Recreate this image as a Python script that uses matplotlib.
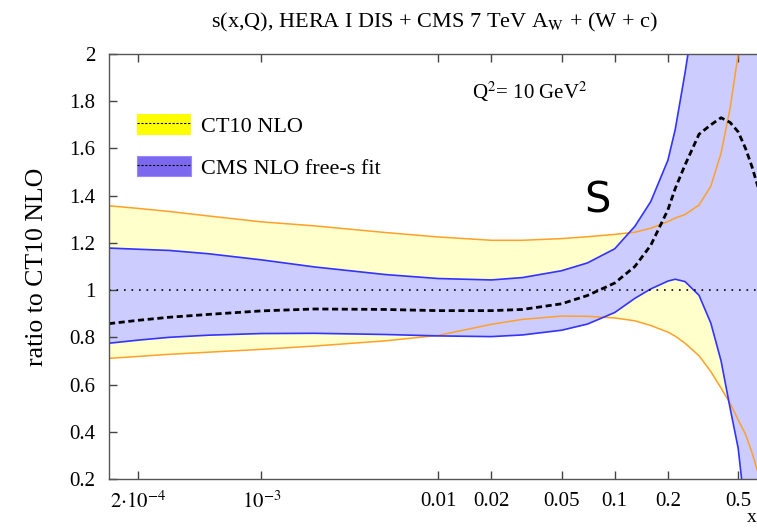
import matplotlib
matplotlib.use('Agg')
import matplotlib.pyplot as plt
from matplotlib.patches import Patch
from matplotlib.lines import Line2D
from matplotlib.legend_handler import HandlerTuple

plt.rcParams['font.family'] = 'Liberation Serif'
plt.rcParams['mathtext.fontset'] = 'stix'

# strange-sea ratio to CT10 NLO, Q^2 = 10 GeV^2
x = [1.37e-4, 2e-4, 3e-4, 5e-4, 1e-3, 2e-3, 5e-3, 0.01, 0.02, 0.03, 0.05,
     0.07, 0.1, 0.13, 0.16, 0.2, 0.22, 0.25, 0.3, 0.35, 0.4, 0.45, 0.5,
     0.55, 0.6, 0.7]
ct10_up = [1.357, 1.346, 1.333, 1.314, 1.289, 1.272, 1.244, 1.225, 1.211,
           1.211, 1.218, 1.226, 1.236, 1.245, 1.262, 1.29, 1.305, 1.32,
           1.36, 1.44, 1.58, 1.77, 2.0, 2.3, 2.7, 3.5]
ct10_lo = [0.711, 0.719, 0.728, 0.737, 0.749, 0.763, 0.785, 0.808, 0.855,
           0.876, 0.890, 0.889, 0.882, 0.870, 0.850, 0.822, 0.805, 0.775,
           0.722, 0.655, 0.585, 0.52, 0.45, 0.39, 0.31, 0.14]
cms_up = [1.178, 1.173, 1.168, 1.154, 1.128, 1.098, 1.066, 1.049, 1.043,
          1.053, 1.082, 1.115, 1.175, 1.27, 1.375, 1.55, 1.68, 1.92, 2.3,
          2.7, 3.1, 3.5, 4.0, 4.5, 5.0, 6.0]
cms_lo = [0.775, 0.788, 0.800, 0.809, 0.816, 0.817, 0.812, 0.806, 0.803,
          0.810, 0.830, 0.856, 0.905, 0.965, 1.005, 1.038, 1.046, 1.036,
          0.978, 0.86, 0.70, 0.50, 0.33, 0.05, -0.2, -0.6]
cms_c = [0.858, 0.872, 0.885, 0.897, 0.912, 0.920, 0.918, 0.913, 0.913,
         0.918, 0.942, 0.977, 1.03, 1.10, 1.19, 1.34, 1.43, 1.53, 1.66,
         1.70, 1.73, 1.71, 1.67, 1.60, 1.52, 1.35]

xticks = [2e-4, 1e-3, 0.01, 0.02, 0.05, 0.1, 0.2, 0.5]
xticklabels = [r'$2{\cdot}10^{-4}$', r'$10^{-3}$', '0.01', '0.02', '0.05',
               '0.1', '0.2', '0.5']
yticks = [0.2, 0.4, 0.6, 0.8, 1, 1.2, 1.4, 1.6, 1.8, 2]

fig = plt.figure(figsize=(7.57, 5.28), dpi=100)
ax = fig.add_axes([0.144, 0.0928, 0.9014, 0.805])

yel_fill = '#ffffcc'
blu_fill = '#ccccff'
orange = '#ffa028'
blue = '#3333ff'

ax.fill_between(x, ct10_lo, ct10_up, color=yel_fill, lw=0)
ax.fill_between(x, cms_lo, cms_up, color=blu_fill, lw=0)
ax.plot(x, ct10_up, color=orange, lw=1.1)
ax.plot(x, ct10_lo, color=orange, lw=1.1)
ax.plot(x, cms_up, color=blue, lw=1.2)
ax.plot(x, cms_lo, color=blue, lw=1.2)
ax.axhline(1, color='k', lw=1.2, ls=(0, (1, 3.5)))
ax.plot(x, cms_c, color='k', lw=2, ls=(0, (2.2, 1.3)))

ax.set_xscale('log')
ax.set_xlim(1.37e-4, 1)
ax.set_ylim(0.2, 2)
ax.set_xticks(xticks)
ax.set_xticklabels(xticklabels)
ax.xaxis.set_minor_locator(matplotlib.ticker.NullLocator())
ax.set_yticks(yticks)
ax.set_yticklabels(['%g' % v for v in yticks])
ax.tick_params(direction='in', length=6, width=1, labelsize=15, pad=10,
               top=True, color='#444444')
ax.tick_params(axis='x', pad=9)
for s in ['left', 'bottom', 'top']:
    ax.spines[s].set_color('#555555')
    ax.spines[s].set_linewidth(1)
ax.spines['right'].set_visible(False)

ax.set_ylabel('ratio to CT10 NLO', fontsize=18.5, labelpad=15)
fig.text(0.574, 0.958, r's(x,Q), HERA I DIS + CMS 7 TeV A$_\mathrm{W}$ + (W + c)',
         ha='center', va='center', fontsize=16)
fig.text(0.9935, 0.003, 'x', ha='center', va='bottom', fontsize=14)

ax.text(0.0332, 1.839, r'Q$^2$= 10 GeV$^2$', ha='center', va='center', fontsize=15)
ax.text(0.08, 1.38, 'S', family='DejaVu Sans', fontsize=30, ha='center', va='center')

dash = (0, (2, 1.5))
h1 = (Patch(facecolor='#ffff00', edgecolor='none'),
      Line2D([], [], color='k', lw=0.8, ls=dash))
h2 = (Patch(facecolor='#7b68ee', edgecolor='#9988ff', lw=0.8),
      Line2D([], [], color='k', lw=0.8, ls=dash))
ax.legend([h1, h2], ['CT10 NLO', 'CMS NLO free-s fit'],
          handler_map={tuple: HandlerTuple(ndivide=1, pad=0)},
          loc='upper left', bbox_to_anchor=(0.041, 0.859), borderaxespad=0,
          borderpad=0, frameon=False, fontsize=16, handlelength=2.45,
          handleheight=1.05, handletextpad=0.45, labelspacing=0.85)

fig.savefig('out.png', dpi=100)
